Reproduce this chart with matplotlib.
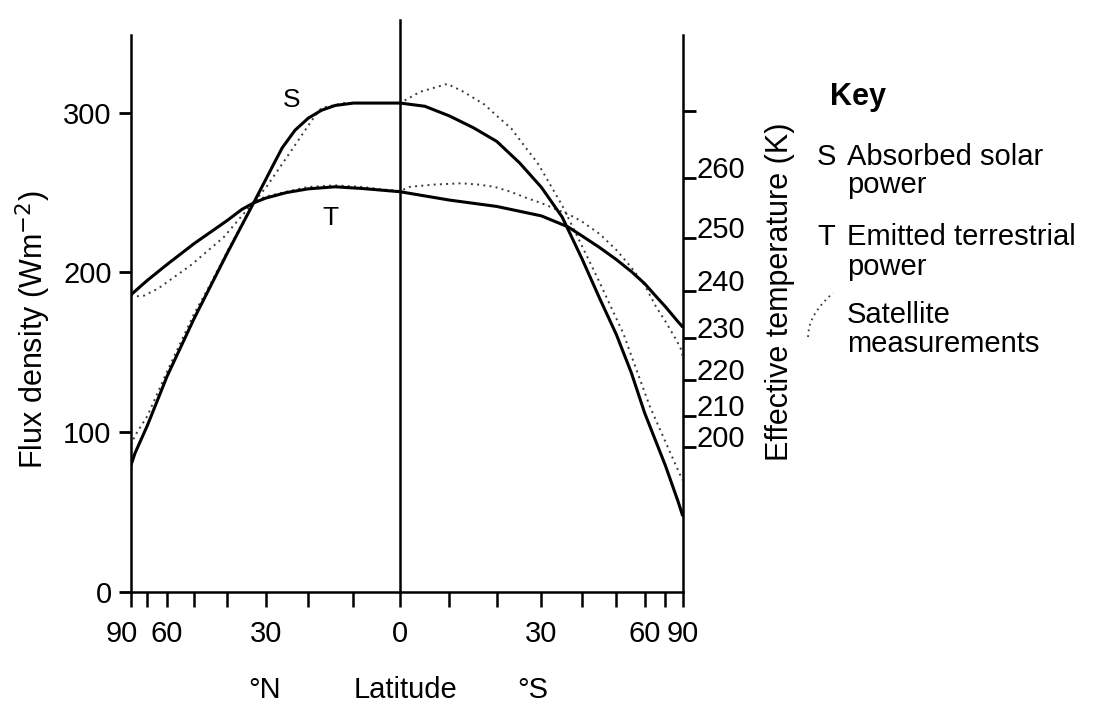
import numpy as np
import matplotlib
matplotlib.use("Agg")
import matplotlib.pyplot as plt
from matplotlib.transforms import ScaledTranslation
from matplotlib.lines import Line2D

plt.rcParams['font.family'] = ['Liberation Sans', 'DejaVu Sans']

SIGMA = 5.67e-8  # Stefan-Boltzmann constant, W m^-2 K^-4

# Latitude in degrees: negative = north, positive = south
lat_S_model = [-90, -80, -70, -60, -50, -40, -33, -30, -28, -26, -23, -20, -17, -14, -10,
               -5, 0, 5, 10, 15, 20, 25, 30, 35, 40, 45, 50, 55, 60, 70, 80, 90]
S_model = [79.5, 87, 104, 135, 171, 212, 243.5, 258, 268, 278, 289, 296.5, 301.5, 304.5, 306,
           306, 306, 304, 298, 290.6, 282, 268.6, 253.3, 234.7, 209, 183.5, 161, 137, 112,
           79, 56.4, 48]

lat_T_model = [-90, -80, -70, -60, -50, -40, -36, -33, -30, -25, -20, -14, -8, 0,
               10, 20, 30, 36.4, 40, 45, 50, 55, 60, 65, 70, 80, 90]
T_model = [186, 188.3, 195, 205, 218, 232.5, 239.5, 243.5, 246.5, 250, 252.3, 253.6, 252.5,
           250.5, 245.3, 241.3, 235.4, 228.6, 223, 215.5, 208, 200.5, 193, 185, 178.5, 169, 166]

lat_S_sat = [-90, -80, -70, -60, -50, -45, -40, -33, -30, -25, -20, -18.7, -17, -12, -6, 0,
             4, 9.6, 13, 17.4, 20, 23.2, 25, 29.1, 30, 35, 40, 45, 50, 52.2, 55, 60, 62.2,
             70, 80, 90]
S_sat = [92, 98, 110, 138, 174, 192, 213, 244, 252.8, 271.8, 291.8, 297, 303, 306, 306, 306,
         313, 318, 313, 305, 298, 290, 283.2, 268.5, 264.5, 242, 217, 193.5, 171, 162, 147.7,
         125, 116, 94, 76, 70]

lat_T_sat = [-90, -80, -72, -64, -51, -41, -33, -30, -25, -20, -14, -8, -4, 0,
             2, 7, 12.5, 16, 19.5, 23, 26.8, 30, 34, 37.7, 40, 45, 50, 55, 60, 65, 70,
             78, 84, 90]
T_sat = [186, 185, 185.5, 190, 204.6, 222, 244, 247.5, 250.5, 253.5, 254.5, 253.5, 252, 251,
         253.6, 255, 255.8, 255, 253.6, 250.5, 246.4, 243.4, 239, 235, 232, 224, 214, 203,
         192, 178.5, 169.3, 157.7, 152, 148]

# Axis ticks
lat_major = [-90, -60, -30, 0, 30, 60, 90]
lat_major_labels = ['90', '60', '30', '0', '30', '60', '90']
lat_minor = [-70, -50, -40, -20, -10, 10, 20, 40, 50, 70]
flux_ticks = [0, 100, 200, 300]
temp_ticks = [200, 210, 220, 230, 240, 250, 260, 270]
temp_labels = ['200', '210', '220', '230', '240', '250', '260', '']

# Area-weighted (sine of latitude) horizontal scale; the northern half is
# drawn slightly narrower than the southern one.
K_NORTH = 268.5 / 281.5


def lat_fwd(v):
    v = np.asarray(v, dtype=float)
    s = np.sin(np.radians(np.clip(v, -90, 90)))
    return np.where(v < 0, K_NORTH * s, s)


def lat_inv(u):
    u = np.asarray(u, dtype=float)
    n = np.degrees(np.arcsin(np.clip(u / K_NORTH, -1, 1)))
    s = np.degrees(np.arcsin(np.clip(u, -1, 1)))
    return np.where(u < 0, n, s)


def flux_to_temp(F):
    F = np.clip(np.asarray(F, dtype=float), 1e-9, None)
    return (F / SIGMA) ** 0.25


def temp_to_flux(T):
    return SIGMA * np.asarray(T, dtype=float) ** 4


W, H = 1114, 704
fig = plt.figure(figsize=(W / 100, H / 100), dpi=100)
ax = fig.add_axes([131 / W, 1 - 592 / H, 551.5 / W, 557 / H])
ax.set_xscale('function', functions=(lat_fwd, lat_inv))
ax.set_xlim(-90, 90)
ax.set_ylim(0, 348.6)

line_kw = dict(color='black', lw=2.2, solid_capstyle='round', solid_joinstyle='round', zorder=3)
ax.plot(lat_S_model, S_model, **line_kw)
ax.plot(lat_T_model, T_model, **line_kw)
dot_kw = dict(color='#3a3a3a', lw=1.4, linestyle=(0, (1, 2.2)), zorder=2)
ax.plot(lat_S_sat, S_sat, **dot_kw)
ax.plot(lat_T_sat, T_sat, **dot_kw)

# Equator line rising above the frame
ax.axvline(0, ymin=0, ymax=(592 - 20) / 557, color='black', lw=1.8, clip_on=False, zorder=4)

for side in ['top', 'right']:
    ax.spines[side].set_visible(False)
for side in ['left', 'bottom']:
    ax.spines[side].set_linewidth(1.8)

tick_fs = 21
ax.set_xticks(lat_major, labels=lat_major_labels)
ax.set_xticks(lat_minor, minor=True)
ax.tick_params(axis='x', which='both', direction='out', length=11, width=1.8,
               pad=9, labelsize=tick_fs)
ax.set_yticks(flux_ticks)
ax.tick_params(axis='y', direction='out', length=9, width=2, pad=5, labelsize=tick_fs)

# nudge the crowded northern "90" label to the left
lab90 = ax.xaxis.get_majorticklabels()[0]
lab90.set_transform(lab90.get_transform() + ScaledTranslation(-0.09, 0, fig.dpi_scale_trans))

sec = ax.secondary_yaxis('right', functions=(flux_to_temp, temp_to_flux))
sec.spines['right'].set_linewidth(1.8)
sec.set_yticks(temp_ticks, labels=temp_labels)
sec.tick_params(direction='out', length=9, width=2, pad=1, labelsize=tick_fs)
for lab in sec.get_yticklabels():
    lab.set_verticalalignment('baseline')

# Curve labels
ax.text(-23.7, 308, 'S', fontsize=19, ha='center', va='center')
ax.text(-15.1, 234, 'T', fontsize=19, ha='center', va='center')


def fx(px):
    return px / W


def fy(py):
    return 1 - py / H


# Axis titles
fig.text(fx(33), fy(330), 'Flux density (Wm$^{-2}$)', rotation=90,
         fontsize=22, ha='center', va='center')
fig.text(fx(780), fy(292), 'Effective temperature (K)', rotation=90,
         fontsize=22, ha='center', va='center')
fig.text(fx(265), fy(690), '°N', fontsize=21, ha='center', va='center')
fig.text(fx(405), fy(690), 'Latitude', fontsize=21, ha='center', va='center')
fig.text(fx(533), fy(690), '°S', fontsize=21, ha='center', va='center')

# Key
key_fs = 21
fig.text(fx(830), fy(105), 'Key', fontsize=22, fontweight='bold', ha='left', va='baseline')
fig.text(fx(817), fy(165), 'S', fontsize=key_fs, ha='left', va='baseline')
fig.text(fx(847), fy(165), 'Absorbed solar', fontsize=key_fs, ha='left', va='baseline')
fig.text(fx(847), fy(193), 'power', fontsize=key_fs, ha='left', va='baseline')
fig.text(fx(817), fy(245), 'T', fontsize=key_fs, ha='left', va='baseline')
fig.text(fx(847), fy(245), 'Emitted terrestrial', fontsize=key_fs, ha='left', va='baseline')
fig.text(fx(847), fy(275), 'power', fontsize=key_fs, ha='left', va='baseline')
fig.text(fx(847), fy(323), 'Satellite', fontsize=key_fs, ha='left', va='baseline')
fig.text(fx(847), fy(352), 'measurements', fontsize=key_fs, ha='left', va='baseline')

# dotted key sample: a short arc
t = np.linspace(0, 1, 30)
arc_x = 808 + 25 * t
arc_y = 337 - 44 * np.sqrt(t)
fig.add_artist(Line2D(fx(arc_x), fy(arc_y), color='#3a3a3a', lw=1.3,
                      linestyle=(0, (1, 2.2)), transform=fig.transFigure))

fig.savefig('out.png', dpi=100, facecolor='white')
